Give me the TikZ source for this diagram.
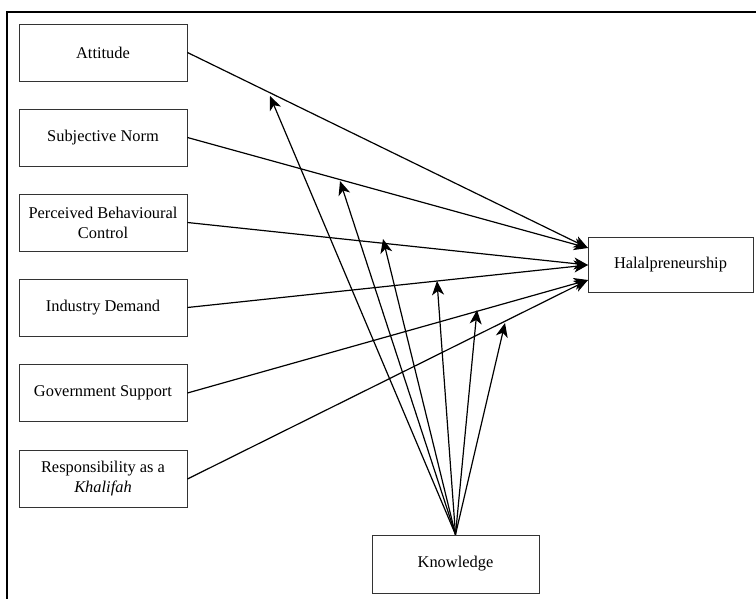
\documentclass[tikz,border=0pt]{standalone}
\usepackage{fontspec}
\setmainfont{Liberation Serif}
\usetikzlibrary{arrows.meta}
\begin{document}
\begin{tikzpicture}[x=1pt,y=-1pt,
  box/.style={draw=black!80,line width=0.9pt,minimum width=168pt,minimum height=57pt,
    inner sep=2pt,align=center,font=\fontsize{16.4}{20}\selectfont,anchor=center},
  conn/.style={line width=1.2pt,-{Stealth[length=14pt,width=12pt,inset=4pt]}}]
\useasboundingbox (0,0) rectangle (756,599);
\draw[line width=2.2pt] (7,610) -- (7,12) -- (770,12);
\node[box] (att) at (103,52.5) {Attitude};
\node[box] (sn) at (103,137.5) {Subjective Norm};
\node[box] (pbc) at (103,222.5) {Perceived Behavioural\\Control};
\node[box] (id) at (103,307.5) {Industry Demand};
\node[box] (gs) at (103,393) {Government Support};
\node[box] (rk) at (103,479) {Responsibility as a\\\textit{Khalifah}};
\node[box,minimum width=165pt,minimum height=55pt] (hal) at (670.5,264.5) {Halalpreneurship};
\node[box,minimum width=167pt,minimum height=58pt] (kn) at (455.5,564) {Knowledge};
\coordinate (h1) at (588,248);
\coordinate (h2) at (588,265);
\coordinate (h3) at (588,280);
\draw[conn] (att.east) -- (h1);
\draw[conn] (sn.east) -- (h1);
\draw[conn] (pbc.east) -- (h2);
\draw[conn] (id.east) -- (h2);
\draw[conn] (gs.east) -- (h3);
\draw[conn] (rk.east) -- (h3);
\coordinate (k1) at (270,96);
\coordinate (k2) at (340,181);
\coordinate (k3) at (383,239);
\coordinate (k4) at (437,281);
\coordinate (k5) at (477,310);
\coordinate (k6) at (505,323);
\foreach \k in {k1,k2,k3,k4,k5,k6}{
  \draw[conn] (kn.north) -- (\k);
}
\end{tikzpicture}
\end{document}
